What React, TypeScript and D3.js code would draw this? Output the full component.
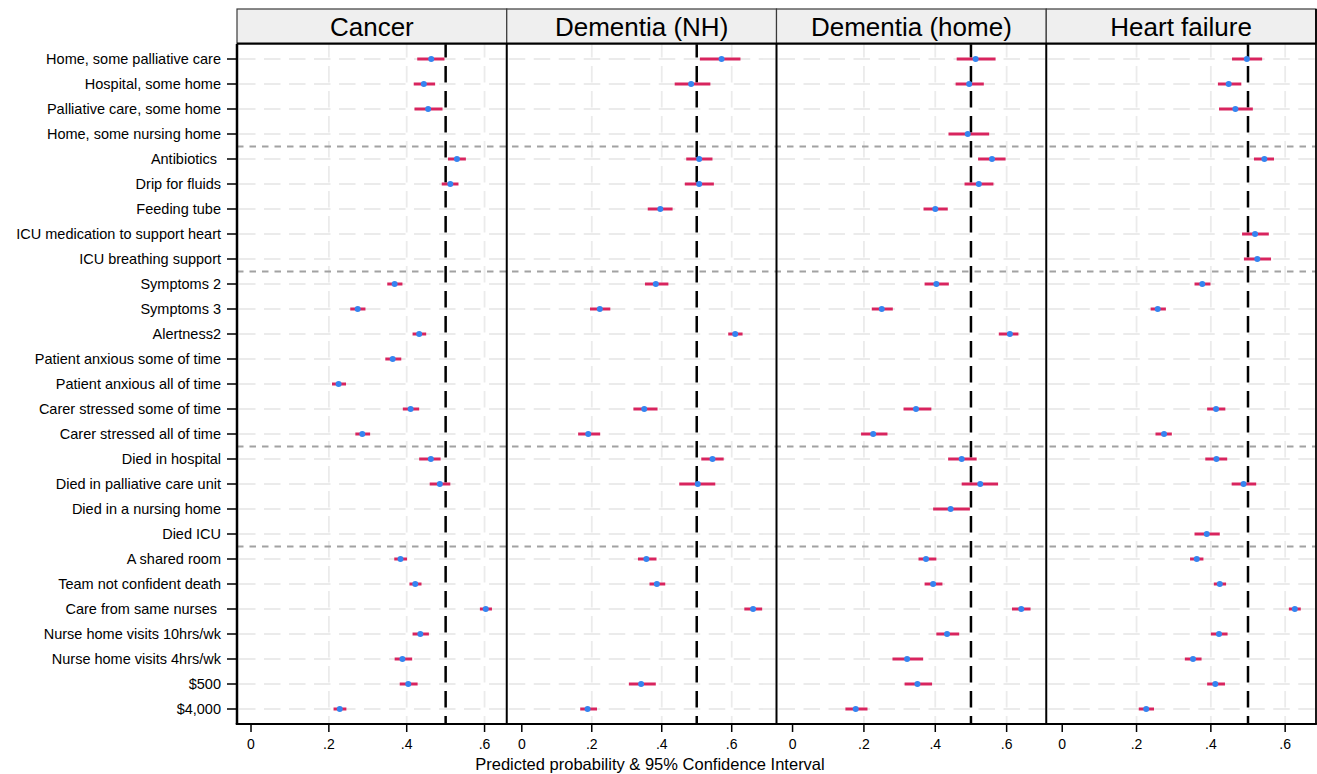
import React from 'react';
import * as d3 from 'd3';

// rows, top to bottom
const rowLabels = [
  'Home, some palliative care',
  'Hospital, some home',
  'Palliative care, some home',
  'Home, some nursing home',
  'Antibiotics ',
  'Drip for fluids',
  'Feeding tube',
  'ICU medication to support heart',
  'ICU breathing support',
  'Symptoms 2',
  'Symptoms 3',
  'Alertness2',
  'Patient anxious some of time',
  'Patient anxious all of time',
  'Carer stressed some of time',
  'Carer stressed all of time',
  'Died in hospital',
  'Died in palliative care unit',
  'Died in a nursing home',
  'Died ICU',
  'A shared room',
  'Team not confident death',
  'Care from same nurses ',
  'Nurse home visits 10hrs/wk',
  'Nurse home visits 4hrs/wk',
  '$500',
  '$4,000',
];

// a new attribute group starts at these rows
const groupStarts = [4, 9, 16, 20];

const panelNames = ['Cancer', 'Dementia (NH)', 'Dementia (home)', 'Heart failure'];

const xTicks = [0, 0.2, 0.4, 0.6];
const xTickLabels = ['0', '.2', '.4', '.6'];
const refValue = 0.5;
const xDomains = [
  [-0.036, 0.657],
  [-0.043, 0.728],
  [-0.045, 0.711],
  [-0.043, 0.683],
];

type V = number | null;
const _ = null;

const cancerEst: V[] = [.463, .444, .455, _, .529, .512, _, _, _, .369, .274, .432, .364, .225, .410, .286, .462, .485, _, _, .384, .422, .603, .435, .389, .404, .228];
const cancerLo: V[] = [.427, .418, .420, _, .506, .490, _, _, _, .350, .255, .415, .345, .208, .390, .268, .432, .459, _, _, .368, .407, .588, .415, .369, .382, .212];
const cancerHi: V[] = [.497, .473, .492, _, .552, .533, _, _, _, .389, .294, .450, .386, .244, .432, .306, .487, .512, _, _, .401, .438, .619, .457, .414, .428, .245];

const demNhEst: V[] = [.571, .484, _, _, .507, .507, .396, _, _, .383, .223, .610, _, _, .350, .190, .545, .503, _, _, .356, .386, .661, _, _, .341, .188];
const demNhLo: V[] = [.509, .437, _, _, .470, .466, .360, _, _, .352, .195, .590, _, _, .319, .161, .513, .450, _, _, .332, .365, .636, _, _, .306, .167];
const demNhHi: V[] = [.625, .539, _, _, .545, .549, .431, _, _, .419, .253, .631, _, _, .388, .224, .577, .553, _, _, .385, .410, .687, _, _, .383, .215];

const demHomeEst: V[] = [.513, .495, _, .491, .559, .522, .400, _, _, .403, .250, .609, _, _, .346, .226, .474, .526, .443, _, .374, .394, .641, .433, .321, .350, .177];
const demHomeLo: V[] = [.460, .457, _, .437, .520, .482, .367, _, _, .370, .222, .578, _, _, .311, .192, .436, .474, .394, _, .353, .370, .615, .403, .280, .314, .148];
const demHomeHi: V[] = [.569, .536, _, .551, .597, .563, .435, _, _, .438, .281, .633, _, _, .389, .266, .516, .576, .497, _, .403, .420, .667, .467, .366, .391, .210];

const heartEst: V[] = [.497, .448, .466, _, .544, _, _, .519, .525, .377, .257, _, _, _, .414, .274, .415, .488, _, .389, .362, .424, .626, .422, .352, .412, .226];
const heartLo: V[] = [.457, .419, .422, _, .516, _, _, .484, .489, .356, .238, _, _, _, .390, .251, .385, .456, _, .356, .344, .408, .610, .400, .330, .390, .206];
const heartHi: V[] = [.538, .482, .513, _, .570, _, _, .556, .562, .399, .279, _, _, _, .439, .295, .444, .522, _, .424, .380, .441, .642, .445, .375, .438, .247];

const panelEst = [cancerEst, demNhEst, demHomeEst, heartEst];
const panelLo = [cancerLo, demNhLo, demHomeLo, heartLo];
const panelHi = [cancerHi, demNhHi, demHomeHi, heartHi];

const W = 1317;
const H = 774;
const plotLeft = 237;
const plotRight = 1316;
const plotTop = 44;
const plotBottom = 724;
const headTop = 9;
const panelW = (plotRight - plotLeft) / panelNames.length;

const FONT = 'Liberation Sans, Arial, Helvetica, sans-serif';
const CI_COLOR = '#d8245e';
const DOT_COLOR = '#3585f0';
const GRID = '#ebebeb';

export default function App() {
  const y = d3.scalePoint<number>()
    .domain(d3.range(rowLabels.length))
    .range([plotTop, plotBottom])
    .padding(0.6);

  const panels = panelNames.map((name, p) => {
    const x0 = plotLeft + p * panelW;
    const x = d3.scaleLinear().domain(xDomains[p]).range([x0, x0 + panelW]);
    const est = panelEst[p];
    const lo = panelLo[p];
    const hi = panelHi[p];
    return (
      <g key={name}>
        {/* horizontal grid */}
        {rowLabels.map((_, i) => (
          <line key={'h' + i} x1={x0} x2={x0 + panelW} y1={y(i)} y2={y(i)}
            stroke={GRID} strokeWidth={1.8} strokeDasharray="16.5 8.5" strokeDashoffset={-2} />
        ))}
        {/* vertical grid */}
        {xTicks.filter(t => t > 0).map(t => (
          <line key={'v' + t} x1={x(t)} x2={x(t)} y1={plotTop} y2={plotBottom}
            stroke={GRID} strokeWidth={1.8} strokeDasharray="16.5 8.5" strokeDashoffset={3} />
        ))}
        {/* reference line */}
        <line x1={x(refValue)} x2={x(refValue)} y1={plotTop} y2={plotBottom}
          stroke="#000" strokeWidth={2.5} strokeDasharray="16.5 8.5" strokeDashoffset={3} />
        {/* estimates */}
        {est.map((v, i) => v == null ? null : (
          <g key={'d' + i}>
            <line x1={x(lo[i] as number)} x2={x(hi[i] as number)} y1={y(i)} y2={y(i)}
              stroke={CI_COLOR} strokeWidth={3} />
            <circle cx={x(v)} cy={y(i)} r={3} fill={DOT_COLOR} />
          </g>
        ))}
        {/* x axis */}
        {xTicks.map((t, k) => (
          <g key={'t' + t}>
            <line x1={x(t)} x2={x(t)} y1={plotBottom} y2={plotBottom + 8} stroke="#000" strokeWidth={1.5} />
            <text x={x(t)} y={749} textAnchor="middle" fontSize={14} fontFamily={FONT} fill="#000">
              {xTickLabels[k]}
            </text>
          </g>
        ))}
        {/* strip header */}
        <rect x={x0} y={headTop} width={panelW} height={plotTop - headTop}
          fill="#efefef" stroke="#3a3a3a" strokeWidth={1.2} />
        <text x={x0 + panelW / 2} y={35.5} textAnchor="middle" fontSize={26} fontFamily={FONT} fill="#000">
          {name}
        </text>
      </g>
    );
  });

  return (
    <svg width={W} height={H} style={{ position: 'absolute', left: 0, top: 0, display: 'block', background: '#fff' }}>
      <rect width={W} height={H} fill="#fff" />
      {panels}
      {/* group separators */}
      {groupStarts.map(g => {
        const yy = ((y(g - 1) as number) + (y(g) as number)) / 2;
        return (
          <line key={'s' + g} x1={plotLeft} x2={plotRight} y1={yy} y2={yy}
            stroke="#a2a2a2" strokeWidth={2} strokeDasharray="6.5 6" />
        );
      })}
      {/* panel frames */}
      {panelNames.map((n, p) => (
        <line key={'b' + n} x1={plotLeft + p * panelW} x2={plotLeft + p * panelW} y1={plotTop} y2={plotBottom}
          stroke="#000" strokeWidth={p === 0 ? 2.5 : 2} />
      ))}
      <line x1={plotRight} x2={plotRight} y1={headTop} y2={plotBottom} stroke="#000" strokeWidth={1.8} />
      <line x1={plotLeft - 1.25} x2={plotRight + 0.9} y1={plotBottom} y2={plotBottom} stroke="#000" strokeWidth={2} />
      <line x1={plotLeft} x2={plotRight} y1={plotTop - 0.5} y2={plotTop - 0.5} stroke="#000" strokeWidth={2} />
      {/* y axis labels */}
      {rowLabels.map((label, i) => (
        <g key={'y' + i}>
          <line x1={plotLeft - 10} x2={plotLeft} y1={y(i)} y2={y(i)} stroke="#000" strokeWidth={1.5} />
          <text x={221} y={(y(i) as number) + 5} textAnchor="end" fontSize={14.5} fontFamily={FONT}
            fill="#000" style={{ whiteSpace: 'pre' }}>
            {label}
          </text>
        </g>
      ))}
      <text x={650} y={770} textAnchor="middle" fontSize={16.5} fontFamily={FONT} fill="#000">
        Predicted probability &amp; 95% Confidence Interval
      </text>
    </svg>
  );
}
